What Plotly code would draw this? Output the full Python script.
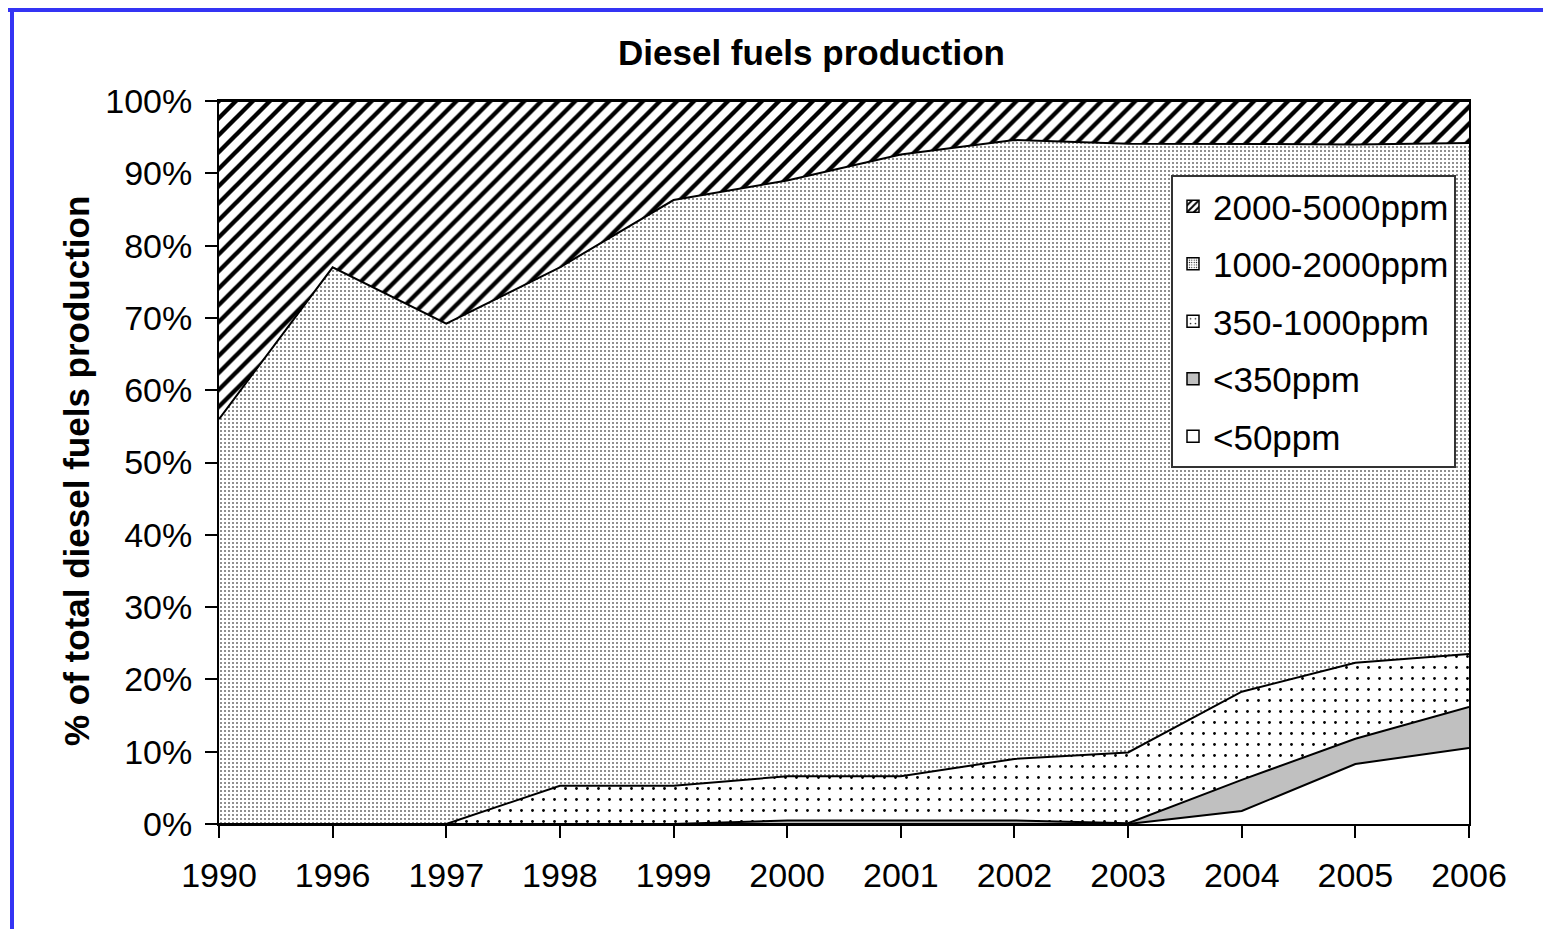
import plotly.graph_objects as go

years = ["1990", "1996", "1997", "1998", "1999", "2000", "2001", "2002", "2003", "2004", "2005", "2006"]
lt50 = [0, 0, 0, 0, 0, 0, 0, 0, 0, 1.8, 8.3, 10.5]
lt350 = [0, 0, 0, 0, 0, 0.5, 0.5, 0.5, 0.1, 4.3, 3.5, 5.7]
p350_1000 = [0, 0, 0, 5.3, 5.3, 6.1, 6.1, 8.5, 9.8, 12.2, 10.5, 7.3]
p1000_2000 = [56, 77, 69.2, 71.7, 81, 82.4, 86.0, 85.6, 84.2, 75.7, 71.7, 70.7]
p2000_5000 = [44, 23, 30.8, 23, 13.7, 11.0, 7.4, 5.4, 5.9, 6.0, 6.0, 5.8]

hatch = dict(shape="/", size=12, solidity=0.36, fgcolor="black", bgcolor="white", fgopacity=1)
dense = dict(shape=".", size=4, solidity=0.13, fgcolor="black", bgcolor="white", fgopacity=1)
sparse = dict(shape=".", size=11, solidity=0.05, fgcolor="black", bgcolor="white", fgopacity=1)

series = [
    ("<50ppm", lt50, dict(fillcolor="white"), dict(color="white")),
    ("<350ppm", lt350, dict(fillcolor="#c0c0c0"), dict(color="#c0c0c0")),
    ("350-1000ppm", p350_1000, dict(fillpattern=sparse),
     dict(color="white", pattern=dict(shape=".", size=6, solidity=0.08, fgcolor="black",
                                      bgcolor="white", fgopacity=1))),
    ("1000-2000ppm", p1000_2000, dict(fillpattern=dense),
     dict(color="white", pattern=dict(shape=".", size=3, solidity=0.18, fgcolor="black",
                                      bgcolor="white", fgopacity=1))),
    ("2000-5000ppm", p2000_5000, dict(fillpattern=hatch),
     dict(color="white", pattern=dict(shape="/", size=6, solidity=0.4, fgcolor="black",
                                      bgcolor="white", fgopacity=1))),
]

OFF = 8  # page body margin
W, H = 1551 - OFF, 937 - 2 * OFF
L, R, T, B = 219 - OFF, 1469 - OFF, 101 - OFF, 824 - OFF


def px(x):
    return (x - OFF - L) / (R - L)


def py(y):
    return (B - (y - OFF)) / (B - T)


fig = go.Figure()
for name, vals, style, _ in series:
    fig.add_trace(go.Scatter(
        x=years, y=vals, name=name, mode="lines", stackgroup="one",
        line=dict(color="black", width=2), showlegend=False,
        hoverinfo="x+y+name", **style))

for name, vals, _, mk in reversed(series):
    fig.add_trace(go.Bar(
        x=[None], y=[None], name=name, legendgroup=name, showlegend=True,
        marker=dict(line=dict(color="black", width=1.5), **mk)))

FONT = "Liberation Sans, Arial, sans-serif"

fig.update_layout(
    width=W, height=H,
    margin=dict(l=L, r=W - R, t=T, b=H - B, autoexpand=False),
    paper_bgcolor="white", plot_bgcolor="white",
    font=dict(family=FONT, size=34, color="black"),
    showlegend=True,
    legend=dict(x=px(1171), y=py(175), xanchor="left", yanchor="top",
                bgcolor="white", bordercolor="#333333", borderwidth=2,
                font=dict(size=35), traceorder="grouped", tracegroupgap=9,
                itemwidth=30),
    xaxis=dict(type="category", range=[0, 11], showgrid=False, showline=True,
               linecolor="black", linewidth=2, mirror=True,
               ticks="outside", ticklen=12, tickwidth=2, tickcolor="black",
               tickfont=dict(size=34), ticklabelstandoff=8),
    yaxis=dict(range=[0, 100], dtick=10, ticksuffix="%", showgrid=False,
               showline=True, linecolor="black", linewidth=2, mirror=True,
               ticks="outside", ticklen=12, tickwidth=2, tickcolor="black",
               tickfont=dict(size=34), ticklabelstandoff=6, zeroline=False),
    annotations=[
        dict(text="<b>Diesel fuels production</b>", x=px(811), y=py(52),
             xref="paper", yref="paper", xanchor="center", yanchor="middle",
             showarrow=False, font=dict(size=35)),
        dict(text="<b>% of total diesel fuels production</b>", x=px(77), y=py(471),
             xref="paper", yref="paper", xanchor="center", yanchor="middle",
             textangle=-90, showarrow=False, font=dict(size=35)),
    ],
    shapes=[
        dict(type="line", xref="paper", yref="paper", x0=px(8), x1=px(1551),
             y0=py(10), y1=py(10), line=dict(color="#3434f4", width=4)),
        dict(type="line", xref="paper", yref="paper", x0=px(12), x1=px(12),
             y0=py(8), y1=py(937), line=dict(color="#3434f4", width=4)),
    ],
)

fig.write_html("out.html")
